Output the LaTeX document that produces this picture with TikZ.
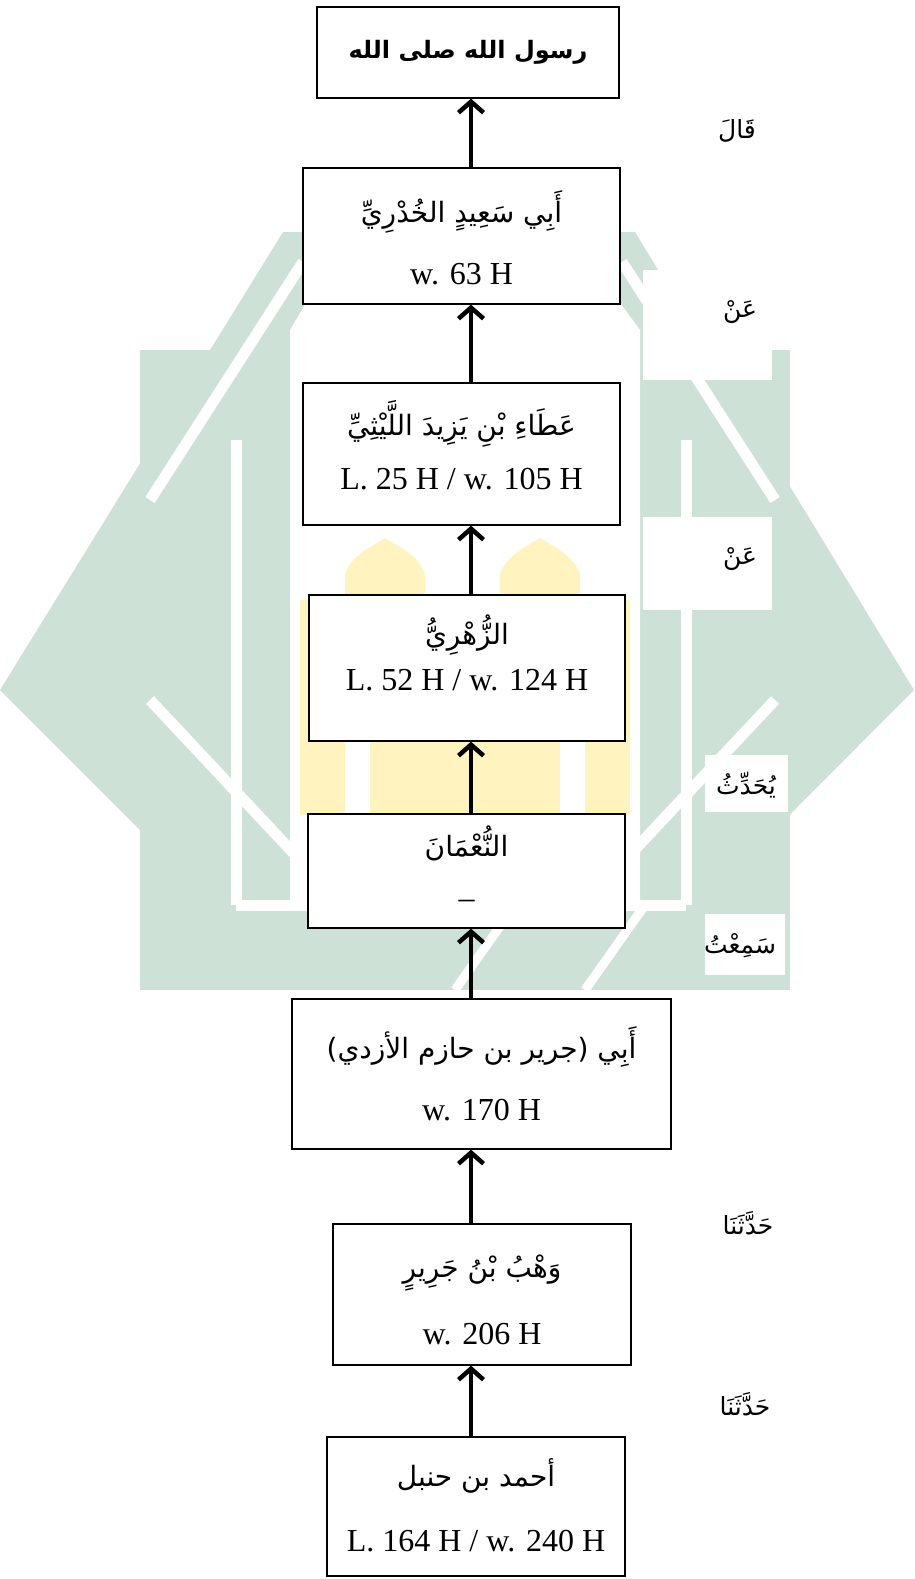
\documentclass[tikz,border=0pt]{standalone}
\usepackage{fontspec}
\setmainfont{Liberation Serif}
\newfontfamily\arabicfont[Script=Arabic]{DejaVu Sans}
\TeXXeTstate=1
\usetikzlibrary{arrows.meta}
\definecolor{wmgreen}{RGB}{206,225,214}
\definecolor{wmyellow}{RGB}{255,243,192}
\begin{document}
\begin{tikzpicture}[x=1pt,y=-1pt,
  box/.style={draw=black, line width=1.3pt, fill=white, inner sep=0pt},
  ar/.style={font=\arabicfont\fontsize{28}{32}\selectfont, inner sep=0pt},
  arb/.style={font=\arabicfont\bfseries\fontsize{24}{28}\selectfont, inner sep=0pt},
  lat/.style={font=\fontsize{32}{36}\selectfont, inner sep=0pt},
  lab/.style={font=\arabicfont\fontsize{25}{29}\selectfont, inner sep=0pt},
  patch/.style={fill=white, draw=none, inner sep=0pt},
  wline/.style={draw=white, line width=11pt},
  up/.style={line width=4.5pt, -{Straight Barb[length=11pt,width=25pt]}}
]
\useasboundingbox (0,0) rectangle (914,1579);
% ---- watermark ----
\begin{scope}
\clip (0,230) rectangle (914,990);
\fill[wmgreen] (140,350) rectangle (790,990);
\fill[wmgreen] (283,232) -- (635,232) -- (914,690) -- (670,935) -- (245,935) -- (0,690) -- cycle;
\end{scope}
% inner white field
\fill[white] (310,296) -- (615,296) -- (640,330) -- (640,905) -- (290,905) -- (290,330) -- cycle;
% white interlace stripes
\draw[wline] (303,262) -- (150,500);
\draw[wline] (622,262) -- (775,500);
\draw[wline] (236,440) -- (236,905);
\draw[wline] (686,440) -- (686,905);
\draw[wline] (150,700) -- (300,860);
\draw[wline] (775,700) -- (625,860);
\draw[wline] (236,905) -- (686,905);
\draw[white, line width=9pt] (455,990) -- (515,905);
\draw[white, line width=9pt] (585,990) -- (645,905);
% mosque
\fill[wmyellow] (345,600) -- (345,575) .. controls (350,555) and (375,545) .. (385,538) .. controls (395,545) and (420,555) .. (425,575) -- (425,600) -- cycle;
\fill[wmyellow] (500,600) -- (500,575) .. controls (505,555) and (530,545) .. (540,538) .. controls (550,545) and (575,555) .. (580,575) -- (580,600) -- cycle;
\fill[wmyellow] (300,600) rectangle (630,815);
\fill[white] (345,740) rectangle (370,815) (560,740) rectangle (585,815);
% ---- boxes ----
\node[box, minimum width=302pt, minimum height=91pt] (b1) at (468,52.5) {};
\node[box, minimum width=317pt, minimum height=136pt] (b2) at (461.5,236) {};
\node[box, minimum width=317pt, minimum height=142pt] (b3) at (461.5,454) {};
\node[box, minimum width=316pt, minimum height=146pt] (b4) at (467,668) {};
\node[box, minimum width=317pt, minimum height=114pt] (b5) at (466.5,871) {};
\node[box, minimum width=379pt, minimum height=150pt] (b6) at (481.5,1074) {};
\node[box, minimum width=298pt, minimum height=141pt] (b7) at (482,1294.5) {};
\node[box, minimum width=298pt, minimum height=139pt] (b8) at (476,1506.5) {};
% ---- texts ----
\node[arb] (t1) at (468,52) {\beginR رسول الله صلى الله\endR};
\node[ar] (t2a) at (461.5,212) {\beginR أَبِي سَعِيدٍ الخُدْرِيِّ\endR};
\node[lat] (t2b) at (461.5,274) {w. 63 H};
\node[ar] (t3a) at (461.5,424) {\beginR عَطَاءِ بْنِ يَزِيدَ اللَّيْثِيِّ\endR};
\node[lat] (t3b) at (461.5,479) {L. 25 H / w. 105 H};
\node[ar] (t4a) at (467,635) {\beginR الزُّهْرِيُّ\endR};
\node[lat] (t4b) at (467,680) {L. 52 H / w. 124 H};
\node[ar] (t5a) at (466.5,843) {\beginR النُّعْمَانَ\endR};
\node[lat] (t5b) at (466.5,904) {–};
\node[ar] (t6a) at (481.5,1047) {\beginR أَبِي (جرير بن حازم الأزدي)\endR};
\node[lat] (t6b) at (481.5,1110) {w. 170 H};
\node[ar] (t7a) at (482,1273) {\beginR وَهْبُ بْنُ جَرِيرٍ\endR};
\node[lat] (t7b) at (482,1334) {w. 206 H};
\node[ar] (t8a) at (476,1476) {\beginR أحمد بن حنبل\endR};
\node[lat] (t8b) at (476,1541) {L. 164 H / w. 240 H};
% ---- arrows ----
\coordinate (ax) at (471,0);
\draw[up] (b2.north -| ax) -- (b1.south -| ax);
\draw[up] (b3.north -| ax) -- (b2.south -| ax);
\draw[up] (b4.north -| ax) -- (b3.south -| ax);
\draw[up] (b5.north -| ax) -- (b4.south -| ax);
\draw[up] (b6.north -| ax) -- (b5.south -| ax);
\draw[up] (b7.north -| ax) -- (b6.south -| ax);
\draw[up] (b8.north -| ax) -- (b7.south -| ax);
% ---- label patches ----
\node[patch, minimum width=129pt, minimum height=110pt] (p2) at (707.5,325) {};
\node[patch, minimum width=129pt, minimum height=93pt] (p3) at (707.5,563.5) {};
\node[patch, minimum width=83pt, minimum height=57pt] (p4) at (746.5,783.5) {};
\node[patch, minimum width=80pt, minimum height=61pt] (p5) at (745,944.5) {};
% ---- labels ----
\node[lab] (l1) at (737,131) {\beginR قَالَ\endR};
\node[lab] (l2) at (740,312) {\beginR عَنْ\endR};
\node[lab] (l3) at (740,559) {\beginR عَنْ\endR};
\node[lab] (l4) at (746,785) {\beginR يُحَدِّثُ\endR};
\node[lab] (l5) at (740,946) {\beginR سَمِعْتُ\endR};
\node[lab] (l6) at (748,1223) {\beginR حَدَّثَنَا\endR};
\node[lab] (l7) at (745,1404) {\beginR حَدَّثَنَا\endR};
\end{tikzpicture}
\end{document}
